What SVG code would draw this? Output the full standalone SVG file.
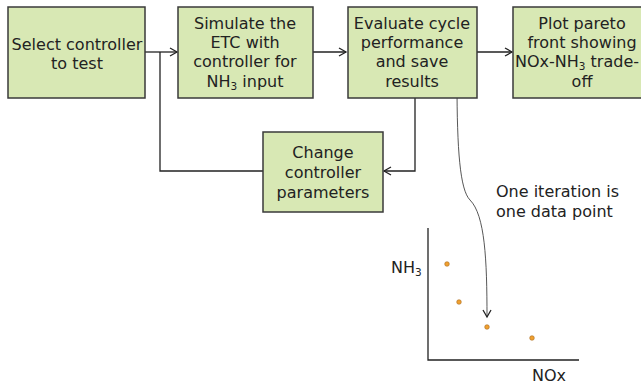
<svg xmlns="http://www.w3.org/2000/svg" width="641" height="386" viewBox="0 0 641 386">
<style>
.box{fill:#d8e8b4;stroke:#3a3a3a;stroke-width:1.5}
.t{font-family:"DejaVu Sans",Verdana,sans-serif;font-size:16px;fill:#222;text-anchor:middle}
.l{font-family:"DejaVu Sans",Verdana,sans-serif;font-size:16px;fill:#222}
.c{fill:none;stroke:#222;stroke-width:1.3}
.thin{fill:none;stroke:#444;stroke-width:0.9}
.dot{fill:#f0a030;stroke:#a86a1c;stroke-width:0.6}
</style>
<defs>
<marker id="ah" markerWidth="10" markerHeight="10" refX="8" refY="5" orient="auto" markerUnits="userSpaceOnUse">
<path d="M1,1 L8,5 L1,9" fill="none" stroke="#222" stroke-width="1.3"/>
</marker>
</defs>
<g id="connectors">
<path class="c" d="M145,52 H177" marker-end="url(#ah)"/>
<path class="c" d="M263,171 H160 V52"/>
<path class="c" d="M313,52 H346" marker-end="url(#ah)"/>
<path class="c" d="M477,52 H512" marker-end="url(#ah)"/>
<path class="c" d="M415,98 V171 H384" marker-end="url(#ah)"/>
<path class="thin" d="M457,82 C457,150 460,190 470,200 C485,215 487,260 487,317" marker-end="url(#ah)"/>
</g>
<g id="n1"><rect class="box" x="8" y="7" width="137" height="91"/>
<text class="t" x="77" y="50">Select controller</text><text class="t" x="77" y="69">to test</text></g>
<g id="n2"><rect class="box" x="178" y="7" width="135" height="91"/>
<text class="t" x="245" y="29">Simulate the</text><text class="t" x="245" y="48">ETC with</text><text class="t" x="245" y="67">controller for</text><text class="t" x="245" y="87">NH<tspan font-size="10.5" dy="3">3</tspan><tspan dy="-3"> input</tspan></text></g>
<g id="n3"><rect class="box" x="348" y="7" width="129" height="91"/>
<text class="t" x="412" y="29">Evaluate cycle</text><text class="t" x="412" y="48">performance</text><text class="t" x="412" y="67">and save</text><text class="t" x="412" y="87">results</text></g>
<g id="n4"><rect class="box" x="513" y="7" width="140" height="91"/>
<text class="t" x="582" y="29">Plot pareto</text><text class="t" x="582" y="48">front showing</text><text class="l" x="515" y="67" font-size="15.5">NOx-NH<tspan font-size="10.5" dy="3">3</tspan><tspan dy="-3"> trade-</tspan></text><text class="t" x="582" y="87">off</text></g>
<g id="n5"><rect class="box" x="263" y="132" width="120" height="80"/>
<text class="t" x="323" y="158">Change</text><text class="t" x="323" y="178">controller</text><text class="t" x="323" y="198">parameters</text></g>
<g id="plot">
<text class="l" x="496" y="197">One iteration is</text>
<text class="l" x="496" y="217">one data point</text>
<path class="c" d="M428,228 V360 H579"/>
<text class="l" x="391" y="273">NH<tspan font-size="10.5" dy="3">3</tspan></text>
<text class="l" x="532" y="381">NOx</text>
<circle class="dot" cx="447" cy="264" r="2.3"/>
<circle class="dot" cx="459" cy="302" r="2.3"/>
<circle class="dot" cx="487" cy="327" r="2.3"/>
<circle class="dot" cx="532" cy="338" r="2.3"/>
</g>
</svg>
